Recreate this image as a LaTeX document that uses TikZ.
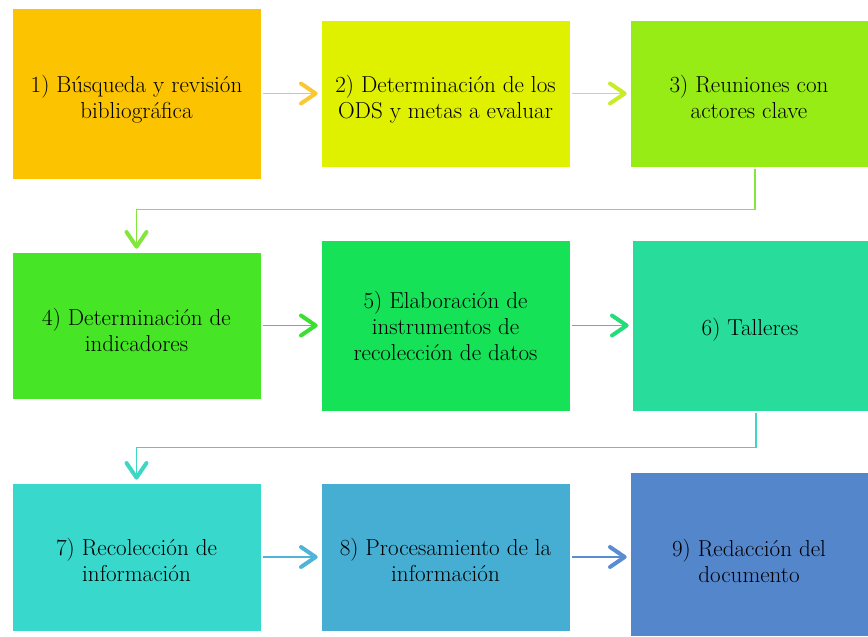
\documentclass[tikz,border=0pt]{standalone}
\usepackage{fontspec}
\usetikzlibrary{arrows.meta}

\definecolor{caja1}{RGB}{252,196,0}
\definecolor{caja2}{RGB}{224,241,0}
\definecolor{caja3}{RGB}{150,236,20}
\definecolor{caja4}{RGB}{70,230,38}
\definecolor{caja5}{RGB}{22,226,88}
\definecolor{caja6}{RGB}{40,220,156}
\definecolor{caja7}{RGB}{56,216,204}
\definecolor{caja8}{RGB}{70,174,210}
\definecolor{caja9}{RGB}{84,134,204}
\definecolor{flecha1}{RGB}{250,200,50}
\definecolor{flecha2}{RGB}{200,236,40}
\definecolor{flecha3}{RGB}{130,230,60}
\definecolor{flecha4}{RGB}{60,222,50}
\definecolor{flecha5}{RGB}{36,220,120}
\definecolor{flecha6}{RGB}{60,216,196}
\definecolor{flecha7}{RGB}{80,180,216}
\definecolor{flecha8}{RGB}{90,140,210}

\tikzset{
  paso/.style={draw=white,line width=0.6pt,inner sep=0pt},
  texto/.style={inner sep=0pt,align=center,
    font=\fontsize{17.3}{19.5}\selectfont},
  flecha/.style={line width=1.1pt,shorten <=1.5pt,shorten >=2.2pt,
    -{Straight Barb[length=11pt,width=15pt,line width=3pt,round]}},
}

\begin{document}
\begin{tikzpicture}[x=0.75pt,y=-0.75pt]
\useasboundingbox (0,0) rectangle (868,636);

% cajas
\node[paso,fill=caja1,minimum width=186.75pt,minimum height=128.25pt] (b1) at (136.5,93.5) {};
\node[paso,fill=caja2,minimum width=186.75pt,minimum height=110.25pt] (b2) at (445.5,93.5) {};
\node[paso,fill=caja3,minimum width=178.5pt,minimum height=110.25pt] (b3) at (749,93.5) {};
\node[paso,fill=caja4,minimum width=186.75pt,minimum height=110.25pt] (b4) at (136.5,325.5) {};
\node[paso,fill=caja5,minimum width=186.75pt,minimum height=128.25pt] (b5) at (445.5,325.5) {};
\node[paso,fill=caja6,minimum width=177pt,minimum height=128.25pt] (b6) at (750,325.5) {};
\node[paso,fill=caja7,minimum width=186.75pt,minimum height=111pt] (b7) at (136.5,557) {};
\node[paso,fill=caja8,minimum width=186.75pt,minimum height=111pt] (b8) at (445.5,557) {};
\node[paso,fill=caja9,minimum width=178.5pt,minimum height=123pt] (b9) at (749,554) {};

% textos
\node[texto] (t1) at (136.5,99.5) {1) Búsqueda y revisión\\bibliográfica};
\node[texto] (t2) at (445.5,99) {2) Determinación de los\\ODS y metas a evaluar};
\node[texto] (t3) at (749,96.5) {3) Reuniones con\\actores clave};
\node[texto] (t4) at (136.5,329.5) {4) Determinación de\\indicadores};
\node[texto] (t5) at (445.5,325.5) {5) Elaboración de\\instrumentos de\\recolección de datos};
\node[texto] (t6) at (750,329.5) {6) Talleres};
\node[texto] (t7) at (136.5,560) {7) Recolección de\\información};
\node[texto] (t8) at (445.5,560) {8) Procesamiento de la\\información};
\node[texto] (t9) at (749,561) {9) Redacción del\\documento};

% flechas entre cajas
\draw[flecha,flecha1] (b1) -- (b2);
\draw[flecha,flecha2] (b2) -- (b3);
\draw[flecha,flecha3,line width=0.9pt] ([xshift=4.5pt]b3.south) -- ++(0,42) -| (b4.north);
\draw[flecha,flecha4] (b4) -- (b5);
\draw[flecha,flecha5] (b5) -- (b6);
\draw[flecha,flecha6,line width=0.9pt] ([xshift=4.5pt]b6.south) -- ++(0,36) -| (b7.north);
\draw[flecha,flecha7] (b7) -- (b8);
\draw[flecha,flecha8] (b8.east) -- (b8.east -| b9.west);

\end{tikzpicture}
\end{document}
